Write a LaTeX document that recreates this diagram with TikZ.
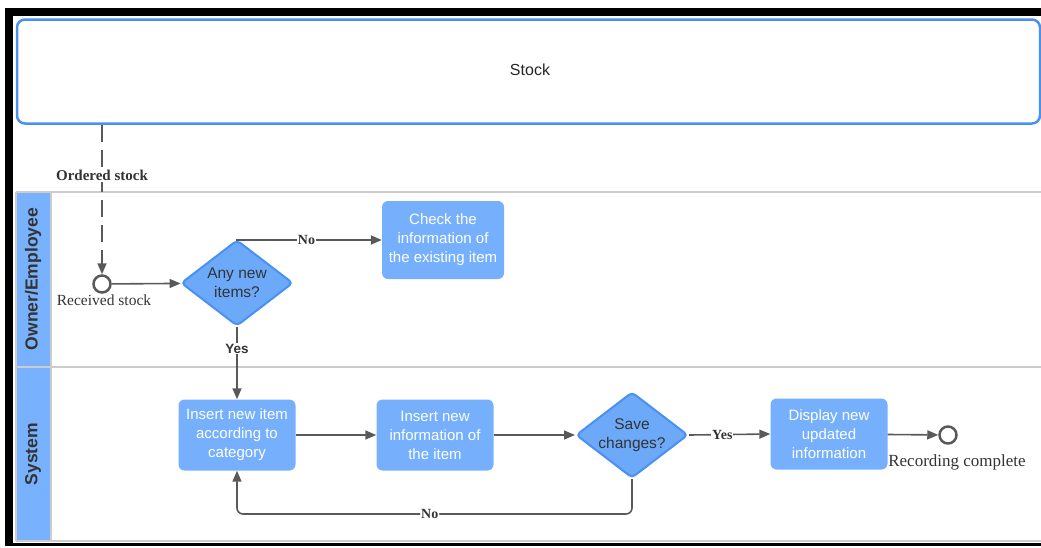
\documentclass[tikz,border=0pt]{standalone}
\usepackage{fontspec}
\setmainfont{Liberation Serif}
\setsansfont{Liberation Sans}
\usetikzlibrary{shapes.geometric,arrows.meta}

\definecolor{laneblue}{HTML}{78B2FF}
\definecolor{boxblue}{HTML}{76B0FD}
\definecolor{dmdfill}{HTML}{6CAAF9}
\definecolor{edgeblue}{HTML}{4A90F2}
\definecolor{linegray}{HTML}{595959}
\definecolor{lanegray}{HTML}{CCCCCC}
\definecolor{txtdark}{HTML}{333333}

\begin{document}
\begin{tikzpicture}[x=1pt,y=-1pt,
  task/.style={rectangle, rounded corners=6pt, fill=boxblue, draw=none,
    text=white, font=\sffamily\fontsize{15}{19}\selectfont, align=center,
    minimum width=117pt, minimum height=71pt, inner sep=2pt},
  decision/.style={diamond, aspect=1.3, fill=dmdfill, draw=edgeblue,
    line width=2pt, rounded corners=4pt, text=txtdark,
    font=\sffamily\fontsize{15.5}{19}\selectfont, align=center,
    minimum width=112pt, minimum height=86pt, inner sep=0pt},
  event/.style={circle, draw=linegray, line width=2.5pt, minimum size=17pt,
    inner sep=0pt, fill=white},
  flow/.style={draw=linegray, line width=1.6pt, -{Triangle[length=11pt,width=9pt]}},
  lbl/.style={fill=white, inner sep=1pt, text=txtdark,
    font=\bfseries\fontsize{14}{14}\selectfont},
  lblsans/.style={lbl, font=\sffamily\bfseries\fontsize{13.5}{13.5}\selectfont},
  evlabel/.style={text=txtdark, font=\fontsize{15.5}{17}\selectfont, inner sep=0pt},
  lanetitle/.style={rotate=90, text=txtdark, font=\sffamily\bfseries\fontsize{17.5}{17.5}\selectfont},
  laneline/.style={draw=lanegray, line width=1.5pt}
]
\useasboundingbox (0,0) rectangle (1041,547);

% outer frame
\fill[black] (5,8) rectangle (1041,16);
\fill[black] (5,8) rectangle (13,546);
\fill[black] (13,543) rectangle (1041,546);

% swimlanes
\fill[laneblue] (16,192) rectangle (51,541);
\draw[laneline] (16,192) -- (1041,192);
\draw[laneline] (16,367) -- (1041,367);
\draw[laneline] (16,541) -- (1041,541);
\draw[laneline] (16,192) -- (16,541);
\draw[laneline] (51,192) -- (51,541);
\node[lanetitle] (laneowner) at (33,279) {Owner/Employee};
\node[lanetitle] (lanesys) at (33,454) {System};

% external pool
\node[draw=edgeblue, line width=2.5pt, rounded corners=8pt, minimum width=1023pt,
  minimum height=104pt, inner sep=0pt] (stock) at (528.5,71.5) {};
\node[text=black!85, font=\sffamily\fontsize{16}{16}\selectfont] (stocktxt) at (530,70) {Stock};

% events
\node[event] (start) at (102,284) {};
\node[evlabel, anchor=north] (starttxt) at (104,295) {Received stock};
\node[event] (finish) at (948,435) {};
\node[evlabel, anchor=north, font=\fontsize{17}{18}\selectfont] (finishtxt) at (957,454) {Recording complete};

% activities and gateways
\node[decision] (anynew) at (237,283) {Any new\\items?};
\node[task, minimum width=122pt, minimum height=78pt] (check) at (443,240)
  {Check the\\information of\\the existing item};
\node[task] (insitem) at (237,435) {Insert new item\\according to\\category};
\node[task] (insinfo) at (435,435) {Insert new\\information of\\the item};
\node[decision] (save) at (632,435) {Save\\changes?};
\node[task] (display) at (829,434) {Display new\\updated\\information};

% connectors
\draw[flow, dash pattern=on 17pt off 8pt] (stock.south -| start) --
  node[lbl, pos=0.34, font=\bfseries\fontsize{15}{15}\selectfont] {Ordered stock} (start);
\draw[flow] (start) -- (anynew);
\draw[flow] (anynew.north) |- node[lbl, pos=0.74] {No} (check.west);
\draw[flow] (anynew.south) -- node[lblsans, pos=0.3] {Yes} (insitem.north);
\draw[flow] (insitem) -- (insinfo);
\draw[flow] (insinfo) -- (save);
\draw[flow] (save.east) -- node[lbl, pos=0.41] {Yes} (display.west);
\draw[flow] (display) -- (finish);
\draw[flow, rounded corners=6pt] (save.south) -- ++(0,35) -|
  node[lbl, pos=0.256] {No} (insitem.south);
\end{tikzpicture}
\end{document}
